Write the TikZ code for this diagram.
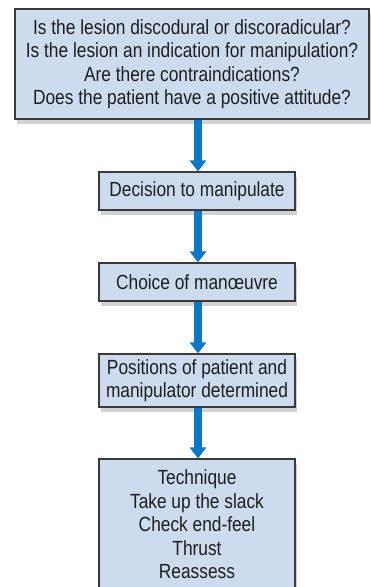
\documentclass[tikz,border=0pt]{standalone}
\usepackage{fontspec}
\setmainfont{Liberation Sans}[FakeStretch=0.845]
\usetikzlibrary{arrows.meta,shadows}
\definecolor{boxfill}{HTML}{CCDCEE}
\definecolor{boxline}{HTML}{3A3A3A}
\definecolor{arrowblue}{HTML}{0A78C8}
\definecolor{txt}{HTML}{1E1E1E}
\tikzset{
  flowbox/.style={draw=boxline, line width=1.1pt, fill=boxfill, align=center,
    inner sep=0pt, text=txt,
    font=\fontsize{20.5}{23.5}\selectfont,
    drop shadow={shadow xshift=2pt, shadow yshift=-5pt, fill=black!30, opacity=0.6}},
  flowarrow/.style={draw=arrowblue, line width=8pt,
    -{Triangle[width=16pt,length=11pt]}}
}
\begin{document}
\begin{tikzpicture}[x=1pt,y=-1pt]
\useasboundingbox (0,0) rectangle (371,587);
\node[flowbox, minimum width=354pt, minimum height=110pt] (top) at (192,64)
  {\raisebox{-1pt}{}Is the lesion discodural or discoradicular?\\
   Is the lesion an indication for manipulation?\\
   Are there contraindications?\\
   Does the patient have a positive attitude?};
\node[flowbox, minimum width=196pt, minimum height=38pt] (dec) at (197,191)
  {Decision to manipulate};
\node[flowbox, minimum width=196pt, minimum height=38pt] (cho) at (197,282)
  {Choice of manœuvre};
\node[flowbox, minimum width=196pt, minimum height=53pt] (pos) at (197,380.5)
  {Positions of patient and\\manipulator determined};
\node[flowbox, minimum width=196pt, minimum height=131pt] (tec) at (197,524.5)
  {Technique\\Take up the slack\\Check end-feel\\Thrust\\Reassess};
\draw[flowarrow] ([xshift=1pt]dec.north |- top.south) -- ([xshift=1pt]dec.north);
\draw[flowarrow] ([xshift=1pt]dec.south) -- ([xshift=1pt]cho.north);
\draw[flowarrow] ([xshift=1pt]cho.south) -- ([xshift=1pt]pos.north);
\draw[flowarrow] ([xshift=1pt]pos.south) -- ([xshift=1pt]tec.north);
\end{tikzpicture}
\end{document}
